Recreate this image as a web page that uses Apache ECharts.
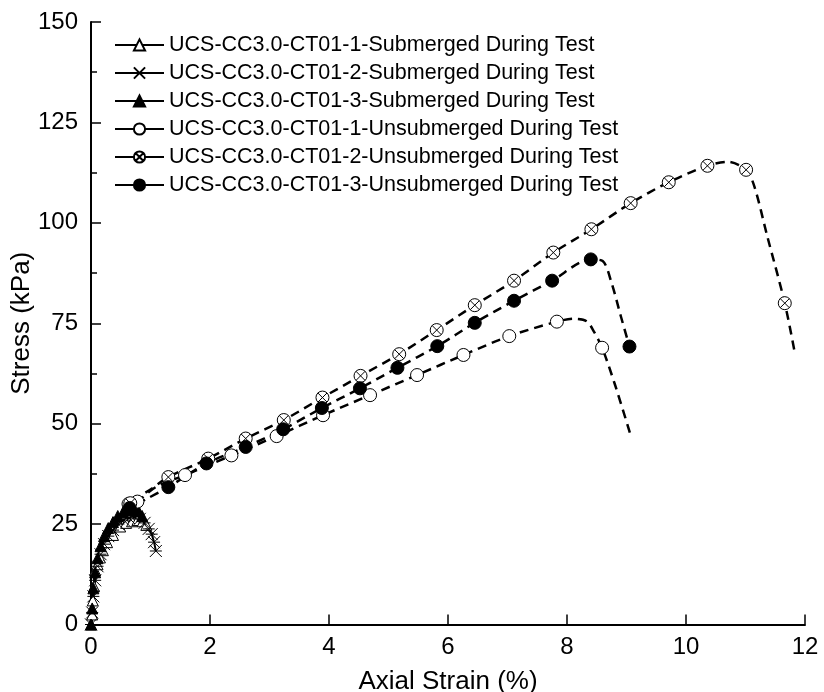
<!DOCTYPE html>
<html>
<head>
<meta charset="utf-8">
<script src="https://cdn.jsdelivr.net/npm/echarts@6.0.0/dist/echarts.min.js"></script>
<style>
  html, body { margin: 0; padding: 0; background: #fff; }
  #chart { width: 824px; height: 692px; }
</style>
</head>
<body>
<div id="chart"></div>
<script>
// 轴刻度
const strainTicks = [0, 2, 4, 6, 8, 10, 12]
const stressTicks = [0, 25, 50, 75, 100, 125, 150]

// 名称
const names = [
  'UCS-CC3.0-CT01-1-Submerged During Test',
  'UCS-CC3.0-CT01-2-Submerged During Test',
  'UCS-CC3.0-CT01-3-Submerged During Test',
  'UCS-CC3.0-CT01-1-Unsubmerged During Test',
  'UCS-CC3.0-CT01-2-Unsubmerged During Test',
  'UCS-CC3.0-CT01-3-Unsubmerged During Test'
]

// 浸水试样 (strain %, stress kPa)
const sub1 = [[0, 0], [0.02, 2.5], [0.03, 6], [0.05, 9.5], [0.07, 13.5], [0.11, 15], [0.15, 16.7], [0.2, 18.5],
  [0.27, 20.5], [0.37, 22.3], [0.49, 24.4], [0.59, 25.3], [0.69, 25.7], [0.78, 26], [0.87, 25.7], [0.93, 24.8]]
const sub2 = [[0, 0], [0.02, 3], [0.04, 7], [0.07, 11], [0.11, 14.5], [0.16, 17.5], [0.22, 20], [0.29, 22],
  [0.37, 23.5], [0.46, 25], [0.55, 26], [0.64, 26.5], [0.73, 26.8], [0.82, 26.3], [0.9, 25.3], [0.97, 23.8],
  [1.02, 22.5], [1.06, 20.5], [1.09, 18.3]]
const sub3 = [[0, 0], [0.02, 4], [0.04, 9], [0.07, 13], [0.11, 16.5], [0.16, 19.5], [0.22, 22], [0.29, 24],
  [0.37, 25.5], [0.45, 27], [0.54, 28], [0.63, 28.5], [0.72, 28.7], [0.8, 28.2], [0.86, 27]]

// 非浸水试样 曲线
const unsub1Curve = [[0, 0], [0.03, 4], [0.05, 9], [0.08, 12], [0.12, 15], [0.2, 18.5], [0.3, 22], [0.45, 25.5],
  [0.62, 28.5], [0.8, 30.8], [1.1, 34.3], [1.58, 37.2], [2.36, 42.1], [3.12, 46.9], [3.9, 52.1], [4.69, 57.1],
  [5.48, 62.1], [6.26, 67.1], [7.03, 71.8], [7.83, 75.4], [8.1, 76.1], [8.33, 75.5], [8.45, 73], [8.59, 68.9],
  [8.8, 60], [9.06, 47.6]]
const unsub2Curve = [[0, 0], [0.02, 5], [0.05, 10], [0.09, 14], [0.17, 19], [0.28, 23], [0.42, 26.5], [0.6, 29.5],
  [0.8, 31.8], [1.0, 33.6], [1.3, 36.7], [1.97, 41.3], [2.6, 46.3], [3.24, 50.9], [3.89, 56.5], [4.53, 61.9],
  [5.18, 67.3], [5.81, 73.3], [6.45, 79.5], [7.11, 85.6], [7.77, 92.6], [8.41, 98.4], [9.07, 104.9],
  [9.71, 110.1], [10.36, 114.2], [10.7, 115.2], [11.01, 113.2], [11.15, 109], [11.36, 97], [11.66, 80.0],
  [11.83, 67.5]]
const unsub3Curve = [[0, 0], [0.03, 6], [0.06, 11], [0.12, 15.5], [0.22, 19.5], [0.36, 24], [0.5, 27], [0.65, 29],
  [0.9, 31], [1.3, 34.2], [1.94, 40.1], [2.6, 44.2], [3.23, 48.6], [3.88, 53.9], [4.52, 58.8], [5.15, 63.9],
  [5.82, 69.3], [6.45, 75.1], [7.11, 80.6], [7.75, 85.6], [8.4, 90.9], [8.6, 90.5], [8.75, 85], [8.9, 77],
  [9.05, 69.2]]

// 非浸水试样 标记点
const unsub1Marks = [[0.63, 30], [0.78, 30.6], [1.58, 37.2], [2.36, 42.1], [3.12, 46.9], [3.9, 52.1], [4.69, 57.1],
  [5.48, 62.1], [6.26, 67.1], [7.03, 71.8], [7.83, 75.4], [8.59, 68.9]]
const unsub2Marks = [[0.66, 30.2], [1.3, 36.7], [1.97, 41.3], [2.6, 46.3], [3.24, 50.9], [3.89, 56.5], [4.53, 61.9],
  [5.18, 67.3], [5.81, 73.3], [6.45, 79.5], [7.11, 85.6], [7.77, 92.6], [8.41, 98.4], [9.07, 104.9],
  [9.71, 110.1], [10.36, 114.2], [11.01, 113.2], [11.66, 80.0]]
const unsub3Marks = [[0.65, 29], [1.3, 34.2], [1.94, 40.1], [2.6, 44.2], [3.23, 48.6], [3.88, 53.9], [4.52, 58.8],
  [5.15, 63.9], [5.82, 69.3], [6.45, 75.1], [7.11, 80.6], [7.75, 85.6], [8.4, 90.9], [9.05, 69.2]]

const font = "'Liberation Sans', Arial, sans-serif"
const crossCircle = 'path://M10,0 A10,10 0 1,1 10,20 A10,10 0 1,1 10,0 Z M3,3 L17,17 M17,3 L3,17'
const starX = 'path://M0,0 L20,20 M20,0 L0,20 M0,10 L20,10'

const openStyle = { color: '#fff', borderColor: '#000', borderWidth: 1, opacity: 1 }
const fillStyle = { color: '#000', borderColor: '#000', borderWidth: 1, opacity: 1 }
const dash = { color: '#000', width: 2.5, type: [9, 6] }

function subSeries (name, data, symbol, size, itemStyle) {
  return {
    name: name,
    type: 'line',
    data: data,
    symbol: symbol,
    symbolSize: size,
    showAllSymbol: true,
    lineStyle: { color: '#000', width: 2 },
    itemStyle: itemStyle,
    z: 3
  }
}
function unsubSeries (name, curve, marks, symbol, itemStyle) {
  return [{
    name: name,
    type: 'line',
    data: curve,
    symbol: symbol,
    symbolSize: 13,
    showSymbol: false,
    smooth: 0.3,
    lineStyle: dash,
    itemStyle: itemStyle,
    z: 2
  }, {
    name: name,
    type: 'scatter',
    data: marks,
    symbol: symbol,
    symbolSize: 13,
    itemStyle: itemStyle,
    z: 4
  }]
}

const series = [
  subSeries(names[0], sub1, 'triangle', 11, openStyle),
  subSeries(names[1], sub2, starX, 12, { color: 'rgba(0,0,0,0)', borderColor: '#000', borderWidth: 1 }),
  subSeries(names[2], sub3, 'triangle', 11, fillStyle)
].concat(
  unsubSeries(names[3], unsub1Curve, unsub1Marks, 'circle', openStyle),
  unsubSeries(names[4], unsub2Curve, unsub2Marks, crossCircle, openStyle),
  unsubSeries(names[5], unsub3Curve, unsub3Marks, 'circle', fillStyle)
)

const myChart = echarts.init(document.getElementById('chart'))
myChart.setOption({
  animation: false,
  backgroundColor: '#fff',
  textStyle: { fontFamily: font, color: '#000' },
  grid: { left: 91, right: 19, top: 22, bottom: 67.5, outerBoundsMode: 'none' },
  legend: {
    orient: 'vertical',
    left: 109,
    top: 29,
    itemWidth: 49,
    itemHeight: 14,
    itemGap: 6,
    data: names,
    lineStyle: { type: 'solid', width: 2, color: '#000' },
    textStyle: { fontFamily: font, fontSize: 21.5, color: '#000', lineHeight: 21 }
  },
  xAxis: {
    type: 'value',
    min: strainTicks[0],
    max: strainTicks[strainTicks.length - 1],
    interval: 2,
    name: 'Axial Strain (%)',
    nameLocation: 'middle',
    nameGap: 44,
    nameMoveOverlap: false,
    nameTextStyle: { fontFamily: font, fontSize: 26, color: '#000' },
    axisLine: { show: true, lineStyle: { color: '#000', width: 2 } },
    axisTick: { show: true, inside: true, length: 10, lineStyle: { color: '#000', width: 1.5 } },
    axisLabel: { fontFamily: font, fontSize: 24, color: '#000', margin: 11 },
    splitLine: { show: false }
  },
  yAxis: {
    type: 'value',
    min: stressTicks[0],
    max: stressTicks[stressTicks.length - 1],
    interval: 25,
    name: 'Stress (kPa)',
    nameLocation: 'middle',
    nameGap: 56,
    nameMoveOverlap: false,
    nameTextStyle: { fontFamily: font, fontSize: 26, color: '#000' },
    axisLine: { show: true, lineStyle: { color: '#000', width: 2 } },
    axisTick: { show: true, inside: true, length: 10, lineStyle: { color: '#000', width: 1.5 } },
    minorTick: { show: true, splitNumber: 2, length: 6, lineStyle: { color: '#000', width: 1.5 } },
    axisLabel: { fontFamily: font, fontSize: 24, color: '#000', margin: 13 },
    splitLine: { show: false }
  },
  series: series
})
</script>
</body>
</html>
